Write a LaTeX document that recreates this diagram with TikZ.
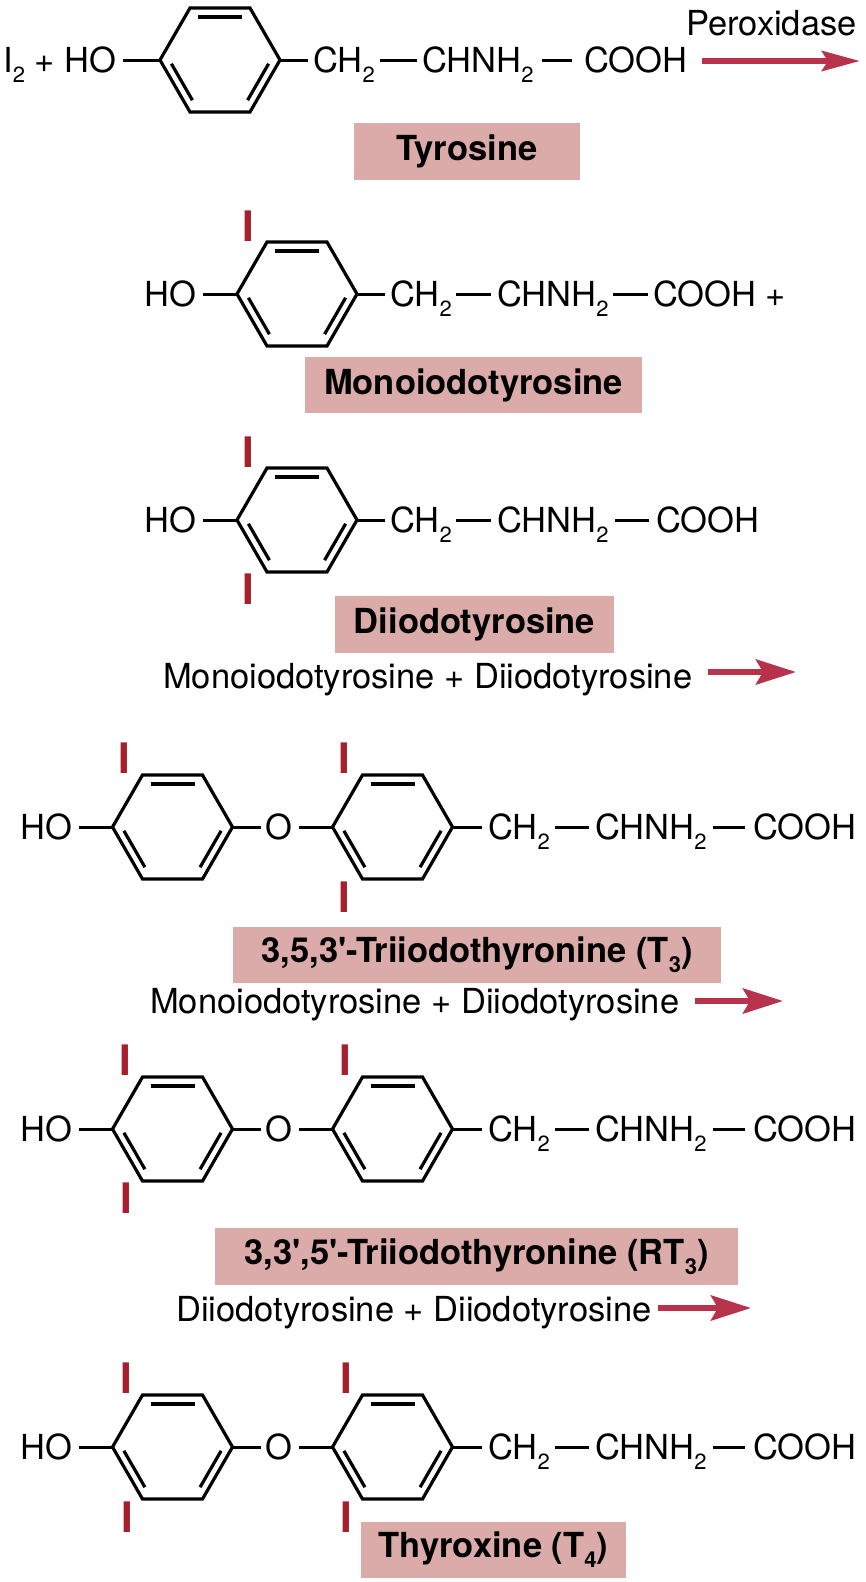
\documentclass[tikz,border=0pt]{standalone}
\usepackage{fontspec}
\setmainfont{TeX Gyre Heros}
\usetikzlibrary{arrows.meta}
\definecolor{boxpink}{HTML}{DBABAA}
\definecolor{arrowred}{HTML}{B7324B}
\definecolor{iodred}{HTML}{A51F2C}
\newcommand{\chemsub}[1]{\raisebox{-10pt}{\fontsize{22}{22}\selectfont #1}}
\newcommand{\basefont}{\fontsize{34.5}{40}\selectfont}
\tikzset{
  ringline/.style={line width=3.2pt, line join=miter},
  bond/.style={line width=3pt},
  txt/.style={anchor=base west, inner sep=0pt, font=\basefont},
  lbl/.style={fill=boxpink, inner sep=0pt, font=\basefont\bfseries},
  imark/.style={anchor=base, inner sep=0pt, text=iodred, font=\fontsize{42}{42}\selectfont\bfseries},
  rxn/.style={line width=6pt, color=arrowred, -{Stealth[length=40pt,width=25pt,inset=7pt]}},
  rxnone/.style={line width=6pt, color=arrowred, -{Stealth[length=38pt,width=20pt,inset=6pt]}},
  benz/.pic={
    \coordinate (-L) at (-60,0);
    \coordinate (-R) at (60,0);
    \draw[ringline] (-60,0) -- (-30,-52) -- (30,-52) -- (60,0) -- (30,52) -- (-30,52) -- cycle;
    \draw[ringline] (-22,-43) -- (22,-43);
    \draw[ringline] (-48.6,3.8) -- (-27.6,40.2);
    \draw[ringline] (48.6,3.8) -- (27.6,40.2);
  }
}
\begin{document}
\begin{tikzpicture}[x=1pt,y=-1pt]
\fill[white] (0,0) rectangle (866,1582);
\useasboundingbox (0,0) rectangle (866,1582);

% ---------- Row 1: Tyrosine ----------
\node[txt] (i2) at (3,72) {I\chemsub{2} + HO};
\pic (r1) at (220,60) {benz};
\node[txt] (ch2a) at (313,72) {CH\chemsub{2}};
\node[txt] (chnh2a) at (422,72) {CHNH\chemsub{2}};
\node[txt] (coa) at (584,72) {COOH};
\node[txt] (perox) at (686,35) {Peroxidase};
\draw[bond, shorten <=7pt] (i2.east |- r1-L) -- (r1-L);
\draw[bond, shorten >=5pt] (r1-R) -- (ch2a.west |- r1-R);
\draw[bond, shorten <=5pt, shorten >=5pt] (ch2a.east |- r1-R) -- (chnh2a.west |- r1-R);
\draw[bond, shorten <=8pt, shorten >=12pt] (chnh2a.east |- r1-R) -- (coa.west |- r1-R);
\coordinate (a1s) at (702,61);
\coordinate (a1e) at (860,61);
\draw[rxnone] (a1s) -- (a1e);
\node[lbl, minimum width=226pt, minimum height=57pt] (tyr) at (467,151.5) {Tyrosine};

% ---------- Row 2: Monoiodotyrosine ----------
\node[txt] (ho2) at (144,306) {HO};
\pic (r2) at (297,294) {benz};
\node[txt] (ch2b) at (390,306) {CH\chemsub{2}};
\node[txt] (chnh2b) at (497,306) {CHNH\chemsub{2}};
\node[txt] (cob) at (653,306) {COOH +};
\draw[bond, shorten <=7pt] (ho2.east |- r2-L) -- (r2-L);
\draw[bond, shorten >=5pt] (r2-R) -- (ch2b.west |- r2-R);
\draw[bond, shorten <=4pt, shorten >=6pt] (ch2b.east |- r2-R) -- (chnh2b.west |- r2-R);
\draw[bond, shorten <=4pt, shorten >=5pt] (chnh2b.east |- r2-R) -- (cob.west |- r2-R);
\node[imark] (i2t) at (248.5,241) {I};
\node[lbl, minimum width=337pt, minimum height=56pt] (mit) at (473.5,385) {Monoiodotyrosine};

% ---------- Row 3: Diiodotyrosine ----------
\node[txt] (ho3) at (144,532) {HO};
\pic (r3) at (297,520) {benz};
\node[txt] (ch2c) at (390,532) {CH\chemsub{2}};
\node[txt] (chnh2c) at (497,532) {CHNH\chemsub{2}};
\node[txt] (coc) at (656,532) {COOH};
\draw[bond, shorten <=7pt] (ho3.east |- r3-L) -- (r3-L);
\draw[bond, shorten >=5pt] (r3-R) -- (ch2c.west |- r3-R);
\draw[bond, shorten <=4pt, shorten >=6pt] (ch2c.east |- r3-R) -- (chnh2c.west |- r3-R);
\draw[bond, shorten <=6pt, shorten >=7pt] (chnh2c.east |- r3-R) -- (coc.west |- r3-R);
\node[imark] (i3t) at (248.5,467) {I};
\node[imark] (i3b) at (248.5,604) {I};
\node[lbl, minimum width=279pt, minimum height=57pt] (dit) at (474.5,624.5) {Diiodotyrosine};
\node[txt] (eq3) at (163,688) {Monoiodotyrosine + Diiodotyrosine};
\coordinate (a3s) at (708,672);
\coordinate (a3e) at (796,672);
\draw[rxn] (a3s) -- (a3e);

% ---------- Row 4: T3 ----------
\node[txt] (ho4) at (20,839) {HO};
\pic (r4a) at (172.5,827) {benz};
\node[txt] (o4) at (265,839) {O};
\pic (r4b) at (392.5,827) {benz};
\node[txt] (ch2d) at (488,839) {CH\chemsub{2}};
\node[txt] (chnh2d) at (595,839) {CHNH\chemsub{2}};
\node[txt] (cod) at (753,839) {COOH};
\draw[bond, shorten <=7pt] (ho4.east |- r4a-L) -- (r4a-L);
\draw[bond, shorten >=4pt] (r4a-R) -- (o4.west |- r4a-R);
\draw[bond, shorten <=7pt] (o4.east |- r4b-L) -- (r4b-L);
\draw[bond, shorten >=6pt] (r4b-R) -- (ch2d.west |- r4b-R);
\draw[bond, shorten <=5pt, shorten >=6pt] (ch2d.east |- r4b-R) -- (chnh2d.west |- r4b-R);
\draw[bond, shorten <=6pt, shorten >=8pt] (chnh2d.east |- r4b-R) -- (cod.west |- r4b-R);
\node[imark] (i4at) at (124.5,773) {I};
\node[imark] (i4bt) at (344.5,773) {I};
\node[imark] (i4bb) at (344.5,912) {I};
\node[lbl, minimum width=488pt, minimum height=56pt] (t3) at (477,955) {3,5,3\textquotesingle-Triiodothyronine (T\chemsub{3})};
\node[txt] (eq4) at (150,1013) {Monoiodotyrosine + Diiodotyrosine};
\coordinate (a4s) at (695,1001);
\coordinate (a4e) at (783,1001);
\draw[rxn] (a4s) -- (a4e);

% ---------- Row 5: RT3 ----------
\node[txt] (ho5) at (20,1141) {HO};
\pic (r5a) at (172.5,1129) {benz};
\node[txt] (o5) at (265,1141) {O};
\pic (r5b) at (392.5,1129) {benz};
\node[txt] (ch2e) at (488,1141) {CH\chemsub{2}};
\node[txt] (chnh2e) at (595,1141) {CHNH\chemsub{2}};
\node[txt] (coe) at (753,1141) {COOH};
\draw[bond, shorten <=7pt] (ho5.east |- r5a-L) -- (r5a-L);
\draw[bond, shorten >=4pt] (r5a-R) -- (o5.west |- r5a-R);
\draw[bond, shorten <=7pt] (o5.east |- r5b-L) -- (r5b-L);
\draw[bond, shorten >=6pt] (r5b-R) -- (ch2e.west |- r5b-R);
\draw[bond, shorten <=5pt, shorten >=6pt] (ch2e.east |- r5b-R) -- (chnh2e.west |- r5b-R);
\draw[bond, shorten <=6pt, shorten >=8pt] (chnh2e.east |- r5b-R) -- (coe.west |- r5b-R);
\node[imark] (i5at) at (125,1075) {I};
\node[imark] (i5bt) at (345.5,1075) {I};
\node[imark] (i5ab) at (126,1213) {I};
\node[lbl, minimum width=523pt, minimum height=57pt] (rt3) at (476.5,1256.5) {3,3\textquotesingle,5\textquotesingle-Triiodothyronine (RT\chemsub{3})};
\node[txt] (eq5) at (176,1321) {Diiodotyrosine + Diiodotyrosine};
\coordinate (a5s) at (658,1308);
\coordinate (a5e) at (751,1308);
\draw[rxn] (a5s) -- (a5e);

% ---------- Row 6: T4 ----------
\node[txt] (ho6) at (20,1459) {HO};
\pic (r6a) at (172.5,1447) {benz};
\node[txt] (o6) at (265,1459) {O};
\pic (r6b) at (392.5,1447) {benz};
\node[txt] (ch2f) at (488,1459) {CH\chemsub{2}};
\node[txt] (chnh2f) at (595,1459) {CHNH\chemsub{2}};
\node[txt] (cof) at (753,1459) {COOH};
\draw[bond, shorten <=7pt] (ho6.east |- r6a-L) -- (r6a-L);
\draw[bond, shorten >=4pt] (r6a-R) -- (o6.west |- r6a-R);
\draw[bond, shorten <=7pt] (o6.east |- r6b-L) -- (r6b-L);
\draw[bond, shorten >=6pt] (r6b-R) -- (ch2f.west |- r6b-R);
\draw[bond, shorten <=5pt, shorten >=6pt] (ch2f.east |- r6b-R) -- (chnh2f.west |- r6b-R);
\draw[bond, shorten <=6pt, shorten >=8pt] (chnh2f.east |- r6b-R) -- (cof.west |- r6b-R);
\node[imark] (i6at) at (126,1393) {I};
\node[imark] (i6ab) at (127,1532) {I};
\node[imark] (i6bt) at (346,1393) {I};
\node[imark] (i6bb) at (346,1532) {I};
\node[lbl, minimum width=265pt, minimum height=56pt] (t4) at (493.5,1550) {Thyroxine (T\chemsub{4})};
\end{tikzpicture}
\end{document}
